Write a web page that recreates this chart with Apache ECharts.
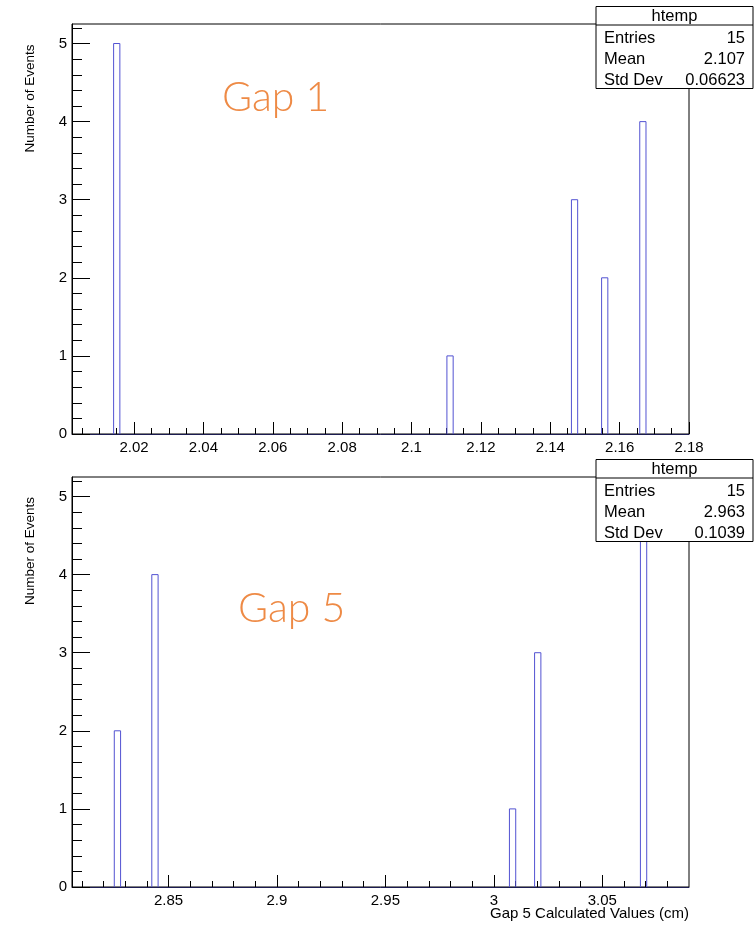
<!DOCTYPE html>
<html>
<head>
<meta charset="utf-8">
<script src="https://cdn.jsdelivr.net/npm/echarts@6/dist/echarts.min.js"></script>
<style>
html,body{margin:0;padding:0;background:#fff;}
#chart{width:755px;height:925px;}
</style>
</head>
<body>
<div id="chart"></div>
<script>
// ---- Data ----
const gap1BinLow = [2.0141, 2.1102, 2.1461, 2.1548, 2.1658];
const gap1Counts = [5, 1, 3, 2, 4];
const gap1BinWidth = 0.0018;
const gap1Range = [2.0021, 2.18];
const gap1MajorTicks = [2.02, 2.04, 2.06, 2.08, 2.1, 2.12, 2.14, 2.16, 2.18];
const gap1Stats = ['15', '2.107', '0.06623'];

const gap5BinLow = [2.8250, 2.8423, 3.0072, 3.0188, 3.0676];
const gap5Counts = [2, 4, 1, 3, 5];
const gap5BinWidth = 0.0029;
const gap5Range = [2.8055, 3.090];
const gap5MajorTicks = [2.85, 2.9, 2.95, 3, 3.05];
const gap5Stats = ['15', '2.963', '0.1039'];

const yMajorTicks = [0, 1, 2, 3, 4, 5];
const yMax = 5.25;
const statNames = ['Entries', 'Mean', 'Std Dev'];

// ---- helpers ----
function minorList(from, to, step, majors) {
  const out = [];
  const n = Math.round((to - from) / step);
  for (let i = 0; i <= n; i++) {
    const v = Math.round((from + i * step) * 100000) / 100000;
    if (!majors.some(m => Math.abs(m - v) < 1e-7)) out.push(v);
  }
  return out;
}
const gap1Minor = minorList(2.005, 2.175, 0.005, gap1MajorTicks);
const gap5Minor = minorList(2.81, 3.08, 0.01, gap5MajorTicks);
const yMinor = minorList(0.2, 5.2, 0.2, yMajorTicks);

const FONT = "'Liberation Sans', Arial, sans-serif";
const BLUE = '#5252d2';

function buildData(lows, counts, w) {
  return lows.map((x, i) => [x, x + w, counts[i]]);
}

function renderItem(params, api) {
  const x0 = api.value(0), x1 = api.value(1), c = api.value(2);
  const p0 = api.coord([x0, 0]);
  const p1 = api.coord([x1, c]);
  return {
    type: 'polyline',
    shape: { points: [[p0[0], p0[1]], [p0[0], p1[1]], [p1[0], p1[1]], [p1[0], p0[1]]] },
    style: { stroke: BLUE, lineWidth: 1, fill: null }
  };
}

function xAxes(gridIndex, range, majors, minors) {
  return [
    {
      type: 'value', gridIndex, position: 'bottom', min: range[0], max: range[1],
      axisLine: { show: true, onZero: false, lineStyle: { color: '#1c1c50', width: 1 } },
      splitLine: { show: false },
      axisTick: { show: true, inside: true, length: 12, customValues: majors, lineStyle: { color: '#000' } },
      axisLabel: { show: true, customValues: majors, margin: 6, color: '#000', fontSize: 15, fontFamily: FONT }
    },
    {
      type: 'value', gridIndex, position: 'bottom', min: range[0], max: range[1],
      axisLine: { show: false, onZero: false },
      splitLine: { show: false },
      axisTick: { show: true, inside: true, length: 6, customValues: minors, lineStyle: { color: '#000' } },
      axisLabel: { show: false }
    }
  ];
}
function yAxes(gridIndex) {
  return [
    {
      type: 'value', gridIndex, position: 'left', min: 0, max: yMax,
      axisLine: { show: true, onZero: false, lineStyle: { color: '#000', width: 1 } },
      splitLine: { show: false },
      axisTick: { show: true, inside: true, length: 18, customValues: yMajorTicks, lineStyle: { color: '#000' } },
      axisLabel: { show: true, customValues: yMajorTicks, margin: 5, color: '#000', fontSize: 15, fontFamily: FONT }
    },
    {
      type: 'value', gridIndex, position: 'left', min: 0, max: yMax,
      axisLine: { show: false, onZero: false },
      splitLine: { show: false },
      axisTick: { show: true, inside: true, length: 10, customValues: yMinor, lineStyle: { color: '#000' } },
      axisLabel: { show: false }
    }
  ];
}

function statsBox(top, values) {
  const left = 596, width = 157, height = 82;
  const Z = 200;
  const children = [
    { type: 'rect', z: Z, shape: { x: left, y: top, width, height }, style: { fill: '#fff', stroke: '#000', lineWidth: 1 } },
    { type: 'line', z: Z + 1, shape: { x1: left, y1: top + 18.5, x2: left + width, y2: top + 18.5 }, style: { stroke: '#000', lineWidth: 1 } },
    { type: 'text', z: Z + 1, x: left + width / 2, y: top + 9.5, style: { text: 'htemp', fontSize: 16.5, fontFamily: FONT, fill: '#000', align: 'center', verticalAlign: 'middle' } }
  ];
  statNames.forEach((n, i) => {
    const y = top + 31.5 + i * 21;
    children.push({ type: 'text', z: Z + 1, x: left + 8, y, style: { text: n, fontSize: 16.5, fontFamily: FONT, fill: '#000', align: 'left', verticalAlign: 'middle' } });
    children.push({ type: 'text', z: Z + 1, x: left + width - 8, y, style: { text: values[i], fontSize: 16.5, fontFamily: FONT, fill: '#000', align: 'right', verticalAlign: 'middle' } });
  });
  return children;
}

const chart = echarts.init(document.getElementById('chart'), null, { renderer: 'canvas' });
chart.setOption({
  animation: false,
  backgroundColor: '#fff',
  grid: [
    { left: 72, top: 24, width: 617, height: 410, show: true, borderColor: '#000', borderWidth: 1, backgroundColor: 'transparent' },
    { left: 72, top: 477, width: 617, height: 410, show: true, borderColor: '#000', borderWidth: 1, backgroundColor: 'transparent' }
  ],
  xAxis: [...xAxes(0, gap1Range, gap1MajorTicks, gap1Minor), ...xAxes(1, gap5Range, gap5MajorTicks, gap5Minor)],
  yAxis: [...yAxes(0), ...yAxes(1)],
  series: [
    { type: 'custom', xAxisIndex: 0, yAxisIndex: 0, renderItem, encode: { x: [0, 1], y: 2 }, data: buildData(gap1BinLow, gap1Counts, gap1BinWidth), z: 2 },
    { type: 'custom', xAxisIndex: 2, yAxisIndex: 2, renderItem, encode: { x: [0, 1], y: 2 }, data: buildData(gap5BinLow, gap5Counts, gap5BinWidth), z: 2 }
  ],
  graphic: {
    elements: [
      ...statsBox(6.5, gap1Stats),
      ...statsBox(459.5, gap5Stats),
      { type: 'text', x: 30, y: 98.5, rotation: Math.PI / 2, style: { text: 'Number of Events', fontSize: 13.5, fontFamily: FONT, fill: '#000', align: 'center', verticalAlign: 'middle' } },
      { type: 'text', x: 30, y: 551, rotation: Math.PI / 2, style: { text: 'Number of Events', fontSize: 13.5, fontFamily: FONT, fill: '#000', align: 'center', verticalAlign: 'middle' } },
      { type: 'text', x: 689, y: 914, style: { text: 'Gap 5 Calculated Values (cm)', fontSize: 15, fontFamily: FONT, fill: '#000', align: 'right', verticalAlign: 'middle' } },
      { type: 'text', x: 222, y: 98, style: { text: 'Gap 1', fontSize: 41, fontWeight: 300, fontFamily: "Lato, 'Noto Sans', sans-serif", fill: '#EE8A45', align: 'left', verticalAlign: 'middle' } },
      { type: 'text', x: 238, y: 609, style: { text: 'Gap 5', fontSize: 41, fontWeight: 300, fontFamily: "Lato, 'Noto Sans', sans-serif", fill: '#EE8A45', align: 'left', verticalAlign: 'middle' } }
    ]
  }
});
</script>
</body>
</html>
